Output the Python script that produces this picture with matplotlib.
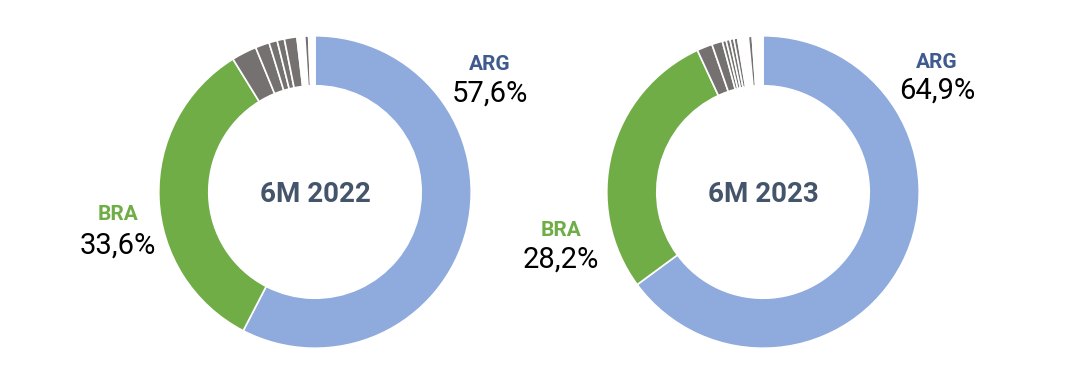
import matplotlib
matplotlib.use("Agg")
import matplotlib.pyplot as plt

plt.rcParams['font.family'] = ['Roboto', 'DejaVu Sans']

# share of total, clockwise from 12 o'clock: ARG, BRA, then the small countries
shares_2022 = [57.6, 33.6, 2.6, 1.45, 0.85, 0.75, 1.3, 0.8, 0.4, 0.65]
shares_2023 = [64.9, 28.2, 1.6, 1.1, 0.4, 0.4, 0.4, 0.4, 1.1, 0.4, 1.1]
colors_2022 = ['#8FAADC', '#70AD47'] + ['#767171'] * 5 + ['#FFFFFF', '#767171', '#FFFFFF']
colors_2023 = ['#8FAADC', '#70AD47'] + ['#767171'] * 6 + ['#FFFFFF', '#767171', '#FFFFFF']
titles = ['6M 2022', '6M 2023']
arg_labels = ['57,6%', '64,9%']
bra_labels = ['33,6%', '28,2%']

W, H = 1080, 374
R = 157
centers = [(315, 192), (763, 192)]
arg_pos = [(490, 64, 94), (937, 63, 91)]
bra_pos = [(118, 215, 246), (561, 230, 260)]

fig = plt.figure(figsize=(W / 100, H / 100), dpi=100)

def fx(x):
    return x / W

def fy(y):
    return 1 - y / H

data = [(shares_2022, colors_2022), (shares_2023, colors_2023)]
for i, (vals, cols) in enumerate(data):
    cx, cy = centers[i]
    ax = fig.add_axes([(cx - R) / W, (H - cy - R) / H, 2 * R / W, 2 * R / H])
    ax.pie(vals, colors=cols, startangle=90, counterclock=False, radius=1,
           wedgeprops=dict(width=0.32, edgecolor='white', linewidth=1.2))
    ax.set_xlim(-1.005, 1.005)
    ax.set_ylim(-1.005, 1.005)
    ax.set_aspect('equal')
    ax.axis('off')

    fig.text(fx(cx), fy(cy + 3), titles[i], ha='center', va='center',
             fontsize=20, fontweight='bold', color='#44546A')

    ax_, ay1, ay2 = arg_pos[i]
    fig.text(fx(ax_), fy(ay1), 'ARG', ha='center', va='center',
             fontsize=15, fontweight='bold', color='#3E5A8E')
    fig.text(fx(ax_), fy(ay2), arg_labels[i], ha='center', va='center',
             fontsize=21, color='black')

    bx, by1, by2 = bra_pos[i]
    fig.text(fx(bx), fy(by1), 'BRA', ha='center', va='center',
             fontsize=15, fontweight='bold', color='#70AD47')
    fig.text(fx(bx), fy(by2), bra_labels[i], ha='center', va='center',
             fontsize=21, color='black')

fig.savefig('out.png', dpi=100, facecolor='white')
